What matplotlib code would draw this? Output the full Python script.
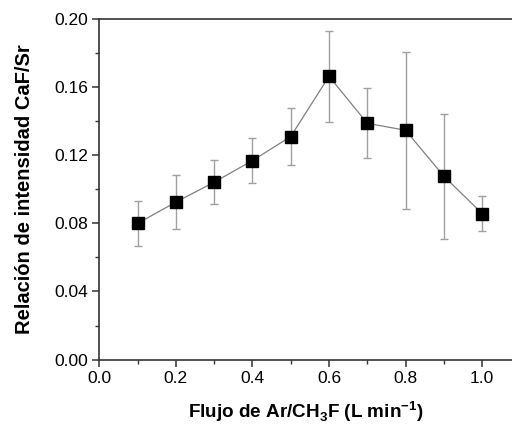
import matplotlib
matplotlib.use("Agg")
import matplotlib.pyplot as plt
from matplotlib.ticker import MultipleLocator

plt.rcParams['font.family'] = ['Liberation Sans', 'DejaVu Sans']

# flow rate (L/min) and CaF/Sr intensity ratio
flujo = [0.1, 0.2, 0.3, 0.4, 0.5, 0.6, 0.7, 0.8, 0.9, 1.0]
relacion = [0.0800, 0.0925, 0.1042, 0.1169, 0.1310, 0.1664, 0.1388, 0.1347, 0.1077, 0.0858]
error = [0.0131, 0.0158, 0.0129, 0.0131, 0.0165, 0.0268, 0.0206, 0.0460, 0.0366, 0.0104]

fig = plt.figure(figsize=(5.12, 4.25), dpi=100)
ax = fig.add_axes([0.194, 0.154, 0.806, 0.801])

ax.errorbar(flujo, relacion, yerr=error, color='#808080', lw=0.9,
            ecolor='#a0a0a0', elinewidth=1.0, capsize=3, capthick=1.0,
            marker='s', markersize=8, mfc='black', mec='black', zorder=3)

ax.set_xlim(0, 1.078)
ax.set_ylim(0, 0.20)
ax.xaxis.set_major_locator(MultipleLocator(0.2))
ax.xaxis.set_minor_locator(MultipleLocator(0.1))
ax.yaxis.set_major_locator(MultipleLocator(0.04))
ax.yaxis.set_minor_locator(MultipleLocator(0.02))
ax.xaxis.set_major_formatter(matplotlib.ticker.FormatStrFormatter('%.1f'))
ax.yaxis.set_major_formatter(matplotlib.ticker.FormatStrFormatter('%.2f'))

ax.spines['right'].set_visible(False)
for s in ['left', 'bottom', 'top']:
    ax.spines[s].set_linewidth(1.2)
    ax.spines[s].set_color('#333333')
ax.tick_params(which='major', direction='out', length=5, width=1.1, labelsize=12.5, color='#333333', pad=3)
ax.tick_params(which='minor', direction='out', length=3, width=1.0, color='#333333')

ax.set_xlabel('Flujo de Ar/CH$_\\mathregular{3}$F (L min$^\\mathregular{-1}$)', fontsize=13.6, fontweight='bold', labelpad=10)
ax.set_ylabel('Relación de intensidad CaF/Sr', fontsize=14.5, fontweight='bold', labelpad=15)

fig.savefig('out.png', dpi=100)
